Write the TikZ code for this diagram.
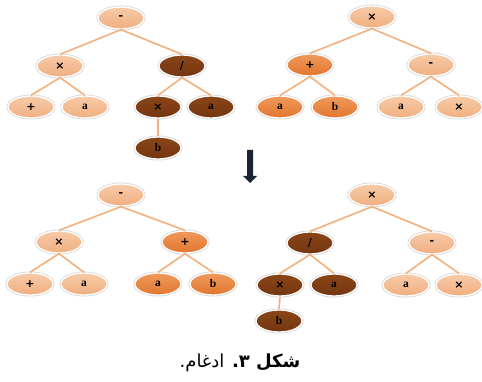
\documentclass[tikz,border=0pt]{standalone}
\usepackage{fontspec}
\usetikzlibrary{shapes.geometric}
\setmainfont{Liberation Serif}
\newfontfamily\arabicfont[Script=Arabic]{DejaVu Sans}
\newfontfamily\symf{DejaVu Sans}
\newcommand{\sy}[1]{{\symf\bfseries\fontsize{11}{12}\selectfont #1}}
\TeXXeTstate=1
\definecolor{lightn}{HTML}{F0AE80}
\definecolor{lightt}{HTML}{F7CBA8}
\definecolor{orangen}{HTML}{E2762E}
\definecolor{oranget}{HTML}{EE9A5C}
\definecolor{darkn}{HTML}{743510}
\definecolor{darkt}{HTML}{8A4618}
\definecolor{edgec}{HTML}{F4B07C}
\definecolor{arrowc}{HTML}{1B2433}
\tikzset{
  tn/.style={ellipse, minimum width=46pt, minimum height=22pt, inner sep=0pt,
    draw=white, line width=1.3pt,
    preaction={draw=gray!30, line width=3pt},
    font=\bfseries\fontsize{11.5}{12}\selectfont, text=black},
  ln/.style={tn, top color=lightt, bottom color=lightn},
  on/.style={tn, top color=oranget, bottom color=orangen},
  dn/.style={tn, top color=darkt, bottom color=darkn},
  ed/.style={draw=edgec, line width=1.6pt}
}
\begin{document}
\begin{tikzpicture}[x=1pt,y=-1pt]
\useasboundingbox (0,0) rectangle (482,382);
% top left
\node[ln] (a1) at (121,18) {\sy{-}};
\node[ln] (a2) at (60,66) {\sy{×}};
\node[dn] (a3) at (182,66) {\sy{/}};
\node[ln] (a4) at (31,107) {\sy{+}};
\node[ln] (a5) at (85,107) {a};
\node[dn] (a6) at (158,107) {\sy{×}};
\node[dn] (a7) at (211,107) {a};
\node[dn] (a8) at (158,148) {b};
% top right
\node[ln] (b1) at (372,17) {\sy{×}};
\node[on] (b2) at (310,65) {\sy{+}};
\node[ln] (b3) at (431,65) {\sy{-}};
\node[on] (b4) at (280,107) {a};
\node[on] (b5) at (335,107) {b};
\node[ln] (b6) at (401,107) {a};
\node[ln] (b7) at (459,107) {\sy{×}};
% bottom left
\node[ln] (c1) at (121,195) {\sy{-}};
\node[ln] (c2) at (59,242) {\sy{×}};
\node[on] (c3) at (185,242) {\sy{+}};
\node[ln] (c4) at (30,284) {\sy{+}};
\node[ln] (c5) at (84,284) {a};
\node[on] (c6) at (158,284) {a};
\node[on] (c7) at (213,284) {b};
% bottom right
\node[ln] (d1) at (372,195) {\sy{×}};
\node[dn] (d2) at (310,243) {\sy{/}};
\node[ln] (d3) at (432,243) {\sy{-}};
\node[dn] (d4) at (280,285) {\sy{×}};
\node[dn] (d5) at (334,285) {a};
\node[ln] (d6) at (406,285) {a};
\node[ln] (d7) at (459,285) {\sy{×}};
\node[dn] (d8) at (279,321) {b};
% edges
\begin{scope}[ed]
\draw (a1.south) -- (a2.north); \draw (a1.south) -- (a3.north);
\draw (a2.south) -- (a4.north); \draw (a2.south) -- (a5.north);
\draw (a3.south) -- (a6.north); \draw (a3.south) -- (a7.north);
\draw (a6.south) -- (a8.north);
\draw (b1.south) -- (b2.north); \draw (b1.south) -- (b3.north);
\draw (b2.south) -- (b4.north); \draw (b2.south) -- (b5.north);
\draw (b3.south) -- (b6.north); \draw (b3.south) -- (b7.north);
\draw (c1.south) -- (c2.north); \draw (c1.south) -- (c3.north);
\draw (c2.south) -- (c4.north); \draw (c2.south) -- (c5.north);
\draw (c3.south) -- (c6.north); \draw (c3.south) -- (c7.north);
\draw (d1.south) -- (d2.north); \draw (d1.south) -- (d3.north);
\draw (d2.south) -- (d4.north); \draw (d2.south) -- (d5.north);
\draw (d3.south) -- (d6.north); \draw (d3.south) -- (d7.north);
\draw (d4.south) -- (d8.north);
\end{scope}
% arrow
\fill[arrowc] (247,150) -- (253,150) -- (253,176) -- (257,176) -- (250,183) -- (243,176) -- (247,176) -- cycle;
% caption
\node[font=\fontsize{18}{21}\selectfont] (cap) at (240,363) {\arabicfont\beginR\textbf{شکل ۳.} ادغام.\endR};
\end{tikzpicture}
\end{document}
